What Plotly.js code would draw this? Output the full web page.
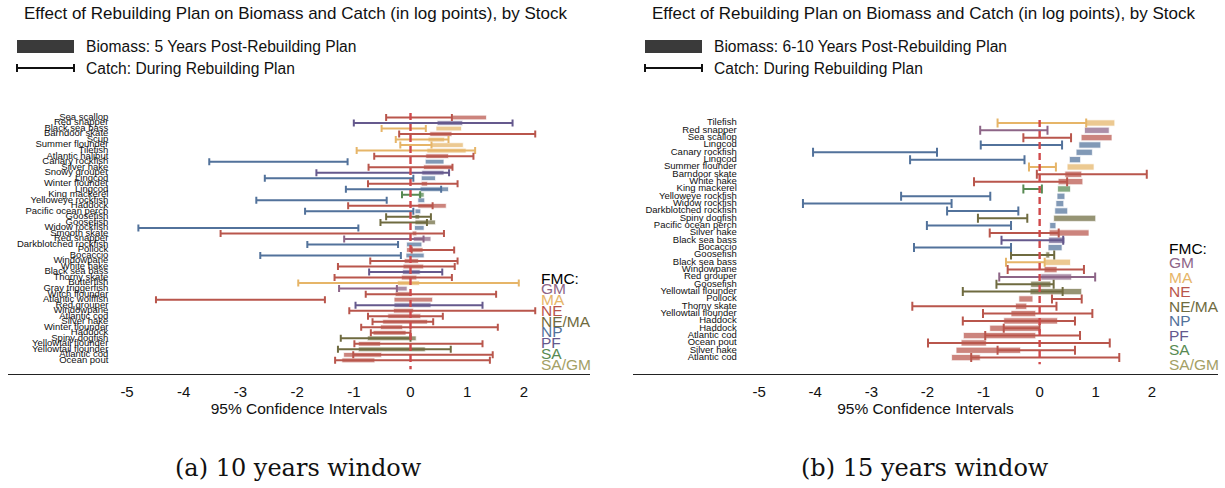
<!DOCTYPE html>
<html>
<head>
<meta charset="utf-8">
<script src="https://cdn.plot.ly/plotly-3.0.1.min.js"></script>
<style>html,body{margin:0;padding:0;background:#fff}#chart{width:1225px;height:488px}</style>
</head>
<body>
<div id="chart"></div>
<script>
// ---------- Panel (a): 10 years window ----------
const stocksA = ["Sea scallop","Red snapper","Black sea bass","Barndoor skate","Scup","Summer flounder","Tilefish","Atlantic halibut","Canary rockfish","Silver hake","Snowy grouper","Lingcod","Winter flounder","Lingcod","King mackerel","Yelloweye rockfish","Haddock","Pacific ocean perch","Goosefish","Goosefish","Widow rockfish","Smooth skate","Red snapper","Darkblotched rockfish","Pollock","Bocaccio","Windowpane","White hake","Black sea bass","Thorny skate","Butterfish","Gray triggerfish","Witch flounder","Atlantic wolffish","Red grouper","Windowpane","Atlantic cod","Silver hake","Winter flounder","Haddock","Spiny dogfish","Yellowtail flounder","Yellowtail flounder","Atlantic cod","Ocean pout"];
const fmcA = ["NE","PF","MA","NE","MA","MA","MA","NE","NP","NE","PF","NP","NE","NP","SA","NP","NE","NP","NE/MA","NE/MA","NP","NE","GM","NP","NE","NP","NE","NE","PF","NE","MA","GM","NE","NE","PF","NE","NE","NE","NE","NE","NE/MA","NE","NE/MA","NE","NE"];
const bioLoA = [0.73,0.47,0.45,0.34,0.31,0.36,0.29,0.27,0.26,0.23,0.20,0.19,0.19,0.17,0.14,0.13,0.13,0.08,0.08,0.08,0.07,0.03,0.05,-0.07,-0.07,-0.08,-0.11,-0.13,-0.14,-0.16,-0.23,-0.26,-0.27,-0.29,-0.29,-0.30,-0.40,-0.49,-0.53,-0.66,-0.76,-0.92,-0.92,-1.18,-1.21];
const bioHiA = [1.34,0.92,0.90,0.73,0.60,0.93,0.98,0.67,0.59,0.74,0.59,0.44,0.30,0.67,0.24,0.25,0.63,0.18,0.16,0.44,0.24,0.11,0.36,0.20,0.22,0.24,0.14,0.23,0.17,0.11,0.16,-0.06,0.02,0.39,0.36,0.05,0.18,0.30,-0.14,-0.08,0.10,-0.53,0.26,-0.51,-0.63];
const catchLoA = [-0.43,-1.00,-0.51,-0.20,-0.26,-0.18,-0.95,-0.64,-3.55,-0.74,-1.66,-2.57,-0.75,-1.14,-0.15,-2.72,-1.10,-1.86,-0.43,-0.53,-4.80,-3.35,-1.17,-1.82,0.02,-2.65,-0.71,-1.28,-0.73,-1.34,-1.98,-1.26,-0.79,-4.49,-0.97,-1.08,-0.75,-0.67,-0.87,-0.70,-1.23,-0.99,-1.28,-1.01,-1.33];
const catchHiA = [0.73,1.80,0.27,2.20,0.67,0.37,1.14,1.11,-1.11,0.74,0.68,0.05,0.83,0.54,0.17,-0.42,0.39,0.05,0.36,0.29,-0.92,0.59,0.23,-0.22,0.77,-0.17,0.83,0.78,0.56,0.73,1.91,-0.24,1.51,-1.51,1.27,2.20,0.57,0.40,1.54,0.00,0.00,1.27,0.71,1.45,1.40];

// ---------- Panel (b): 15 years window ----------
const stocksB = ["Tilefish","Red snapper","Sea scallop","Lingcod","Canary rockfish","Lingcod","Summer flounder","Barndoor skate","White hake","King mackerel","Yelloweye rockfish","Widow rockfish","Darkblotched rockfish","Spiny dogfish","Pacific ocean perch","Silver hake","Black sea bass","Bocaccio","Goosefish","Black sea bass","Windowpane","Red grouper","Goosefish","Yellowtail flounder","Pollock","Thorny skate","Yellowtail flounder","Haddock","Haddock","Atlantic cod","Ocean pout","Silver hake","Atlantic cod"];
const fmcB = ["MA","GM","NE","NP","NP","NP","MA","NE","NE","SA","NP","NP","NP","NE/MA","NP","NE","PF","NP","NE/MA","MA","NE","GM","NE/MA","NE/MA","NE","NE","NE","NE","NE","NE","NE","NE","NE"];
const bioLoB = [0.83,0.80,0.74,0.70,0.65,0.53,0.49,0.45,0.33,0.32,0.31,0.29,0.27,0.25,0.18,0.17,0.16,0.15,0.11,0.09,0.08,0.02,-0.16,-0.17,-0.37,-0.43,-0.51,-0.64,-0.89,-1.36,-1.40,-1.49,-1.57];
const bioHiB = [1.34,1.24,1.29,1.09,0.94,0.73,0.97,0.75,0.77,0.55,0.45,0.43,0.50,1.00,0.29,0.88,0.45,0.40,0.18,0.55,0.31,0.57,0.20,0.75,-0.12,-0.23,-0.07,0.32,0.00,-0.07,-0.95,-0.34,-1.06];
const catchLoB = [-0.75,-1.06,-0.29,-1.05,-4.04,-2.31,-0.19,-0.05,-1.17,-0.29,-2.47,-4.22,-1.65,-1.10,-2.01,-0.89,-0.68,-2.24,-0.51,-0.60,-0.57,-0.72,-0.77,-1.37,0.22,-2.27,-1.01,-1.37,-0.64,-0.97,-1.99,-0.75,-1.22];
const catchHiB = [0.83,0.14,0.56,0.40,-1.83,-0.27,0.29,1.91,0.49,0.04,-0.88,-1.57,-0.38,-0.22,-0.51,0.34,0.42,-0.51,0.26,0.09,0.79,0.99,0.25,0.41,0.75,0.30,0.94,0.63,0.00,0.72,1.25,0.63,1.42];

const tickVals = [-5,-4,-3,-2,-1,0,1,2];
const tickLabels = ["-5","-4","-3","-2","-1","0","1","2"];
const fmcNames = ["GM","MA","NE","NE/MA","NP","PF","SA","SA/GM"];
const fmcColors = {"GM":"#8d6587","MA":"#e6b568","NE":"#b9564c","NE/MA":"#6f6b40","NP":"#52729b","PF":"#65598d","SA":"#578a52","SA/GM":"#a3a065"};

const W = 1225, H = 488;
const FONT = "Liberation Sans, Arial, sans-serif";

function panelTraces(stocks, fmc, bLo, bHi, cLo, cHi, xa, ya, capW, labelX) {
  const idx = stocks.map((_, i) => i);
  const tr = [];
  tr.push({
    type: "bar", orientation: "h", xaxis: xa, yaxis: ya,
    y: idx, base: bLo, x: bHi.map((h, i) => h - bLo[i]),
    width: 0.85,
    marker: { color: fmc.map(f => fmcColors[f]), opacity: 0.72, line: { color: "rgba(255,255,255,0.9)", width: 0.8 } },
    hoverinfo: "skip", showlegend: false
  });
  fmcNames.forEach(name => {
    const ii = idx.filter(i => fmc[i] === name);
    if (!ii.length) return;
    tr.push({
      type: "scatter", mode: "markers", xaxis: xa, yaxis: ya,
      y: ii, x: ii.map(i => (cLo[i] + cHi[i]) / 2),
      marker: { size: 1, opacity: 0 },
      error_x: { type: "data", symmetric: true, array: ii.map(i => (cHi[i] - cLo[i]) / 2),
                 color: fmcColors[name], thickness: 2, width: capW },
      hoverinfo: "skip", showlegend: false
    });
  });
  tr.push({
    type: "scatter", mode: "text", xaxis: xa, yaxis: ya,
    y: idx, x: idx.map(() => labelX), text: stocks,
    textposition: "middle left", textfont: { family: FONT, size: 9.5, color: "#111" },
    hoverinfo: "skip", showlegend: false, cliponaxis: false
  });
  return tr;
}

const data = [].concat(
  panelTraces(stocksA, fmcA, bioLoA, bioHiA, catchLoA, catchHiA, "x", "y", 3.5, -5.33),
  panelTraces(stocksB, fmcB, bioLoB, bioHiB, catchLoB, catchHiB, "x2", "y2", 4.5, -5.40)
);

const px = v => v / W, py = v => 1 - v / H;

function xAxis(domain, range) {
  return {
    domain: domain, range: range, tickvals: tickVals, ticktext: tickLabels,
    showgrid: false, zeroline: false, showline: true, linecolor: "#222", linewidth: 1.3,
    ticks: "outside", ticklen: 4, tickcolor: "rgba(0,0,0,0)",
    tickfont: { family: FONT, size: 15, color: "#111" },
    title: { text: "95% Confidence Intervals", font: { family: FONT, size: 15.5, color: "#111" }, standoff: 4 },
    fixedrange: true
  };
}
function yAxis(range, anchor) {
  return { domain: [py(374), py(110)], range: range, visible: false, anchor: anchor, fixedrange: true };
}

const shapes = [];
const annotations = [];

// zero reference lines
shapes.push({ type: "line", xref: "x", yref: "y", x0: 0, x1: 0, y0: -0.8, y1: 45.6, layer: "above",
  line: { color: "#d0494b", width: 2.4, dash: "7px,4px" } });
shapes.push({ type: "line", xref: "x2", yref: "y2", x0: 0, x1: 0, y0: -0.4, y1: 32.9, layer: "above",
  line: { color: "#d0494b", width: 2.4, dash: "7px,4px" } });

function headerBlock(off, bioText) {
  annotations.push({ xref: "paper", yref: "paper", x: px(22 + off), y: py(13), xanchor: "left", yanchor: "middle",
    text: "Effect of Rebuilding Plan on Biomass and Catch (in log points), by Stock", showarrow: false,
    font: { family: FONT, size: 17, color: "#111" } });
  shapes.push({ type: "rect", xref: "paper", yref: "paper", x0: px(17 + off), x1: px(74 + off), y0: py(40), y1: py(53),
    fillcolor: "#3a3a3a", line: { width: 0 } });
  annotations.push({ xref: "paper", yref: "paper", x: px(84 + off), y: py(46.5), xanchor: "left", yanchor: "middle",
    text: bioText, showarrow: false, font: { family: FONT, size: 15.6, color: "#111" } });
  shapes.push({ type: "line", xref: "paper", yref: "paper", x0: px(17 + off), x1: px(74 + off), y0: py(68), y1: py(68),
    line: { color: "#111", width: 2 } });
  shapes.push({ type: "line", xref: "paper", yref: "paper", x0: px(17 + off), x1: px(17 + off), y0: py(64), y1: py(72),
    line: { color: "#111", width: 2 } });
  shapes.push({ type: "line", xref: "paper", yref: "paper", x0: px(74 + off), x1: px(74 + off), y0: py(64), y1: py(72),
    line: { color: "#111", width: 2 } });
  annotations.push({ xref: "paper", yref: "paper", x: px(84 + off), y: py(68), xanchor: "left", yanchor: "middle",
    text: "Catch: During Rebuilding Plan", showarrow: false, font: { family: FONT, size: 15.6, color: "#111" } });
}
headerBlock(0, "Biomass: 5 Years Post-Rebuilding Plan");
headerBlock(628, "Biomass: 6-10 Years Post-Rebuilding Plan");

function fmcLegend(x, y0, step) {
  annotations.push({ xref: "paper", yref: "paper", x: px(x), y: py(y0), xanchor: "left", yanchor: "middle",
    text: "FMC:", showarrow: false, font: { family: FONT, size: 15.5, color: "#000" } });
  fmcNames.forEach((n, i) => {
    annotations.push({ xref: "paper", yref: "paper", x: px(x), y: py(y0 + step * (i + 1)), xanchor: "left", yanchor: "middle",
      text: n, showarrow: false, font: { family: FONT, size: 15.5, color: fmcColors[n] } });
  });
}
fmcLegend(539, 278, 10.75);
fmcLegend(1167, 248, 14.5);

annotations.push({ xref: "paper", yref: "paper", x: px(298), y: py(468), xanchor: "center", yanchor: "middle",
  text: "(a) 10 years window", showarrow: false, font: { family: "DejaVu Serif, serif", size: 24, color: "#111" } });
annotations.push({ xref: "paper", yref: "paper", x: px(925), y: py(468), xanchor: "center", yanchor: "middle",
  text: "(b) 15 years window", showarrow: false, font: { family: "DejaVu Serif, serif", size: 24, color: "#111" } });

const layout = {
  width: W, height: H, margin: { l: 0, r: 0, t: 0, b: 0 },
  paper_bgcolor: "#fff", plot_bgcolor: "rgba(0,0,0,0)",
  showlegend: false, barmode: "overlay",
  xaxis: xAxis([px(8), px(590)], [-7.10, 3.166]),
  yaxis: yAxis([46.47, -1.36], "x"),
  xaxis2: Object.assign(xAxis([px(633), px(1218)], [-7.25, 3.18]), { anchor: "y2" }),
  yaxis2: yAxis([34.24, -1.77], "x2"),
  shapes: shapes, annotations: annotations
};
layout.xaxis.anchor = "y";

Plotly.newPlot("chart", data, layout, { staticPlot: true, displayModeBar: false });
</script>
</body>
</html>
